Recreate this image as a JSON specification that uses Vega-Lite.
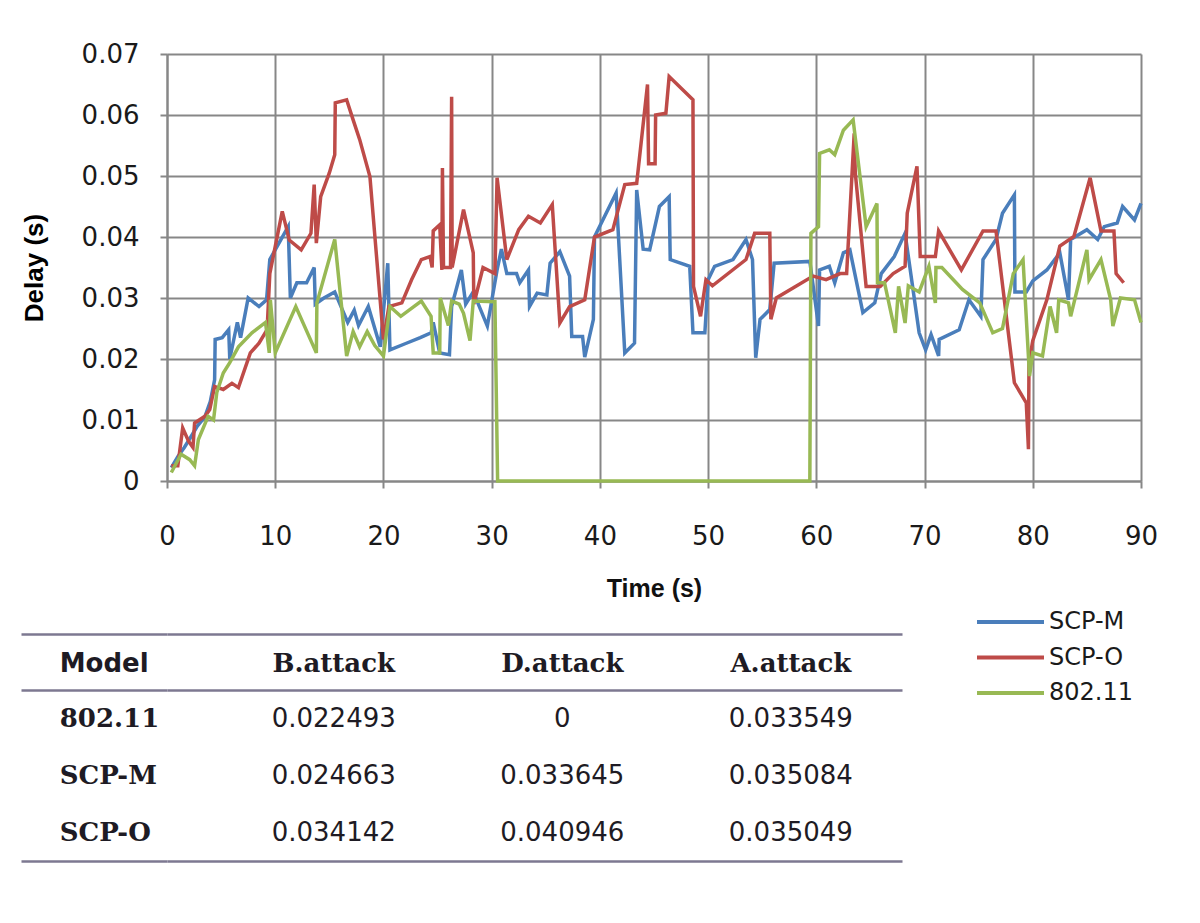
{
  "$schema": "https://vega.github.io/schema/vega-lite/v6.json",
  "background": "white",
  "padding": {"left": 19, "top": 41, "right": 5, "bottom": 5},
  "config": {"view": {"stroke": null}, "concat": {"spacing": 31}},
  "vconcat": [
    {
      "width": 974,
      "height": 427,
      "data": {"values": [
        {"series":"SCP-M","time":0.4,"delay":0.0022},{"series":"SCP-M","time":1.0,"delay":0.004},{"series":"SCP-M","time":1.6,"delay":0.0055},{"series":"SCP-M","time":2.3,"delay":0.0075},{"series":"SCP-M","time":2.8,"delay":0.009},{"series":"SCP-M","time":3.5,"delay":0.0105},{"series":"SCP-M","time":4.0,"delay":0.013},{"series":"SCP-M","time":4.4,"delay":0.0166},{"series":"SCP-M","time":4.45,"delay":0.0232},{"series":"SCP-M","time":5.1,"delay":0.0235},{"series":"SCP-M","time":5.7,"delay":0.0248},{"series":"SCP-M","time":5.8,"delay":0.02},{"series":"SCP-M","time":6.3,"delay":0.0243},{"series":"SCP-M","time":6.5,"delay":0.026},{"series":"SCP-M","time":6.8,"delay":0.0235},{"series":"SCP-M","time":7.5,"delay":0.03},{"series":"SCP-M","time":8.5,"delay":0.0286},{"series":"SCP-M","time":9.2,"delay":0.0297},{"series":"SCP-M","time":9.5,"delay":0.0363},{"series":"SCP-M","time":10.5,"delay":0.0395},{"series":"SCP-M","time":11.2,"delay":0.0417},{"series":"SCP-M","time":11.4,"delay":0.03},{"series":"SCP-M","time":12.0,"delay":0.0325},{"series":"SCP-M","time":12.9,"delay":0.0325},{"series":"SCP-M","time":13.6,"delay":0.035},{"series":"SCP-M","time":13.7,"delay":0.029},{"series":"SCP-M","time":14.5,"delay":0.03},{"series":"SCP-M","time":15.5,"delay":0.031},{"series":"SCP-M","time":16.7,"delay":0.026},{"series":"SCP-M","time":17.3,"delay":0.028},{"series":"SCP-M","time":17.7,"delay":0.0255},{"series":"SCP-M","time":18.6,"delay":0.0286},{"series":"SCP-M","time":19.7,"delay":0.022},{"series":"SCP-M","time":20.4,"delay":0.0357},{"series":"SCP-M","time":20.6,"delay":0.0215},{"series":"SCP-M","time":22.0,"delay":0.0225},{"series":"SCP-M","time":23.4,"delay":0.0235},{"series":"SCP-M","time":24.4,"delay":0.0243},{"series":"SCP-M","time":24.6,"delay":0.026},{"series":"SCP-M","time":25.2,"delay":0.021},{"series":"SCP-M","time":26.1,"delay":0.0207},{"series":"SCP-M","time":26.3,"delay":0.0286},{"series":"SCP-M","time":27.2,"delay":0.0346},{"series":"SCP-M","time":27.6,"delay":0.029},{"series":"SCP-M","time":28.3,"delay":0.031},{"series":"SCP-M","time":29.6,"delay":0.0254},{"series":"SCP-M","time":30.5,"delay":0.0346},{"series":"SCP-M","time":30.9,"delay":0.038},{"series":"SCP-M","time":31.4,"delay":0.034},{"series":"SCP-M","time":32.3,"delay":0.034},{"series":"SCP-M","time":32.6,"delay":0.0325},{"series":"SCP-M","time":33.4,"delay":0.0346},{"series":"SCP-M","time":33.5,"delay":0.0286},{"series":"SCP-M","time":34.2,"delay":0.0308},{"series":"SCP-M","time":35.1,"delay":0.0305},{"series":"SCP-M","time":35.4,"delay":0.0357},{"series":"SCP-M","time":36.3,"delay":0.0376},{"series":"SCP-M","time":37.2,"delay":0.0336},{"series":"SCP-M","time":37.4,"delay":0.0237},{"series":"SCP-M","time":38.4,"delay":0.0237},{"series":"SCP-M","time":38.6,"delay":0.0203},{"series":"SCP-M","time":39.4,"delay":0.0265},{"series":"SCP-M","time":39.5,"delay":0.04},{"series":"SCP-M","time":41.5,"delay":0.0472},{"series":"SCP-M","time":42.3,"delay":0.021},{"series":"SCP-M","time":43.2,"delay":0.0226},{"series":"SCP-M","time":43.4,"delay":0.0477},{"series":"SCP-M","time":44.0,"delay":0.038},{"series":"SCP-M","time":44.6,"delay":0.0379},{"series":"SCP-M","time":45.5,"delay":0.045},{"series":"SCP-M","time":46.4,"delay":0.0466},{"series":"SCP-M","time":46.5,"delay":0.0363},{"series":"SCP-M","time":48.3,"delay":0.0352},{"series":"SCP-M","time":48.6,"delay":0.0243},{"series":"SCP-M","time":49.7,"delay":0.0243},{"series":"SCP-M","time":50.0,"delay":0.033},{"series":"SCP-M","time":50.6,"delay":0.0352},{"series":"SCP-M","time":52.3,"delay":0.0363},{"series":"SCP-M","time":53.5,"delay":0.0396},{"series":"SCP-M","time":54.1,"delay":0.0363},{"series":"SCP-M","time":54.4,"delay":0.0202},{"series":"SCP-M","time":54.8,"delay":0.0265},{"series":"SCP-M","time":55.7,"delay":0.0281},{"series":"SCP-M","time":56.1,"delay":0.0357},{"series":"SCP-M","time":59.4,"delay":0.036},{"series":"SCP-M","time":60.2,"delay":0.0254},{"series":"SCP-M","time":60.3,"delay":0.0346},{"series":"SCP-M","time":61.2,"delay":0.0352},{"series":"SCP-M","time":61.7,"delay":0.0325},{"series":"SCP-M","time":62.5,"delay":0.0374},{"series":"SCP-M","time":63.1,"delay":0.0379},{"series":"SCP-M","time":64.3,"delay":0.0276},{"series":"SCP-M","time":65.4,"delay":0.0292},{"series":"SCP-M","time":66.0,"delay":0.034},{"series":"SCP-M","time":67.2,"delay":0.0368},{"series":"SCP-M","time":68.2,"delay":0.0406},{"series":"SCP-M","time":69.5,"delay":0.0243},{"series":"SCP-M","time":70.1,"delay":0.0215},{"series":"SCP-M","time":70.6,"delay":0.024},{"series":"SCP-M","time":71.3,"delay":0.0205},{"series":"SCP-M","time":71.35,"delay":0.0232},{"series":"SCP-M","time":73.2,"delay":0.0248},{"series":"SCP-M","time":74.1,"delay":0.0297},{"series":"SCP-M","time":75.2,"delay":0.027},{"series":"SCP-M","time":75.4,"delay":0.0363},{"series":"SCP-M","time":76.6,"delay":0.0396},{"series":"SCP-M","time":77.2,"delay":0.0439},{"series":"SCP-M","time":78.3,"delay":0.0469},{"series":"SCP-M","time":78.35,"delay":0.031},{"series":"SCP-M","time":79.4,"delay":0.031},{"series":"SCP-M","time":80.0,"delay":0.0328},{"series":"SCP-M","time":81.3,"delay":0.0346},{"series":"SCP-M","time":82.5,"delay":0.0374},{"series":"SCP-M","time":83.3,"delay":0.0297},{"series":"SCP-M","time":83.5,"delay":0.0396},{"series":"SCP-M","time":85.0,"delay":0.0412},{"series":"SCP-M","time":86.0,"delay":0.0396},{"series":"SCP-M","time":86.6,"delay":0.0417},{"series":"SCP-M","time":87.8,"delay":0.0423},{"series":"SCP-M","time":88.3,"delay":0.045},{"series":"SCP-M","time":89.4,"delay":0.0428},{"series":"SCP-M","time":90.0,"delay":0.0455},
        {"series":"SCP-O","time":0.4,"delay":0.0025},{"series":"SCP-O","time":1.0,"delay":0.0025},{"series":"SCP-O","time":1.45,"delay":0.0087},{"series":"SCP-O","time":2.0,"delay":0.0065},{"series":"SCP-O","time":2.4,"delay":0.0055},{"series":"SCP-O","time":2.55,"delay":0.0095},{"series":"SCP-O","time":3.5,"delay":0.0106},{"series":"SCP-O","time":3.95,"delay":0.0117},{"series":"SCP-O","time":4.4,"delay":0.0155},{"series":"SCP-O","time":5.2,"delay":0.015},{"series":"SCP-O","time":6.0,"delay":0.016},{"series":"SCP-O","time":6.6,"delay":0.0153},{"series":"SCP-O","time":7.7,"delay":0.021},{"series":"SCP-O","time":8.5,"delay":0.0226},{"series":"SCP-O","time":9.25,"delay":0.0248},{"series":"SCP-O","time":9.5,"delay":0.034},{"series":"SCP-O","time":10.65,"delay":0.0442},{"series":"SCP-O","time":11.3,"delay":0.0395},{"series":"SCP-O","time":12.4,"delay":0.0379},{"series":"SCP-O","time":13.3,"delay":0.0406},{"series":"SCP-O","time":13.6,"delay":0.0486},{"series":"SCP-O","time":13.8,"delay":0.039},{"series":"SCP-O","time":14.2,"delay":0.0466},{"series":"SCP-O","time":15.0,"delay":0.0505},{"series":"SCP-O","time":15.5,"delay":0.0535},{"series":"SCP-O","time":15.55,"delay":0.062},{"series":"SCP-O","time":16.6,"delay":0.0625},{"series":"SCP-O","time":17.2,"delay":0.0592},{"series":"SCP-O","time":17.8,"delay":0.056},{"series":"SCP-O","time":18.75,"delay":0.0499},{"series":"SCP-O","time":20.0,"delay":0.0232},{"series":"SCP-O","time":20.5,"delay":0.0286},{"series":"SCP-O","time":21.7,"delay":0.0292},{"series":"SCP-O","time":22.6,"delay":0.033},{"series":"SCP-O","time":23.5,"delay":0.0363},{"series":"SCP-O","time":24.3,"delay":0.0368},{"series":"SCP-O","time":24.5,"delay":0.035},{"series":"SCP-O","time":24.6,"delay":0.041},{"series":"SCP-O","time":25.2,"delay":0.042},{"series":"SCP-O","time":25.4,"delay":0.0346},{"series":"SCP-O","time":25.45,"delay":0.0513},{"series":"SCP-O","time":25.55,"delay":0.035},{"series":"SCP-O","time":26.2,"delay":0.035},{"series":"SCP-O","time":26.3,"delay":0.063},{"series":"SCP-O","time":26.35,"delay":0.035},{"series":"SCP-O","time":27.4,"delay":0.0445},{"series":"SCP-O","time":28.3,"delay":0.0374},{"series":"SCP-O","time":28.35,"delay":0.029},{"series":"SCP-O","time":29.2,"delay":0.035},{"series":"SCP-O","time":30.3,"delay":0.034},{"series":"SCP-O","time":30.5,"delay":0.0497},{"series":"SCP-O","time":31.4,"delay":0.0363},{"series":"SCP-O","time":32.5,"delay":0.0412},{"series":"SCP-O","time":33.4,"delay":0.0434},{"series":"SCP-O","time":34.5,"delay":0.0423},{"series":"SCP-O","time":35.6,"delay":0.0453},{"series":"SCP-O","time":36.3,"delay":0.0259},{"series":"SCP-O","time":37.2,"delay":0.0286},{"series":"SCP-O","time":38.6,"delay":0.0297},{"series":"SCP-O","time":39.5,"delay":0.04},{"series":"SCP-O","time":41.2,"delay":0.0412},{"series":"SCP-O","time":42.3,"delay":0.0486},{"series":"SCP-O","time":43.4,"delay":0.0488},{"series":"SCP-O","time":44.4,"delay":0.065},{"series":"SCP-O","time":44.5,"delay":0.052},{"series":"SCP-O","time":45.1,"delay":0.052},{"series":"SCP-O","time":45.15,"delay":0.06},{"series":"SCP-O","time":46.1,"delay":0.0603},{"series":"SCP-O","time":46.4,"delay":0.0663},{"series":"SCP-O","time":48.6,"delay":0.0625},{"series":"SCP-O","time":48.65,"delay":0.0319},{"series":"SCP-O","time":49.3,"delay":0.027},{"series":"SCP-O","time":49.8,"delay":0.033},{"series":"SCP-O","time":50.4,"delay":0.032},{"series":"SCP-O","time":53.5,"delay":0.0363},{"series":"SCP-O","time":54.3,"delay":0.0406},{"series":"SCP-O","time":55.7,"delay":0.0406},{"series":"SCP-O","time":55.8,"delay":0.0265},{"series":"SCP-O","time":56.3,"delay":0.03},{"series":"SCP-O","time":59.7,"delay":0.0336},{"series":"SCP-O","time":60.9,"delay":0.033},{"series":"SCP-O","time":62.2,"delay":0.034},{"series":"SCP-O","time":62.8,"delay":0.034},{"series":"SCP-O","time":63.5,"delay":0.057},{"series":"SCP-O","time":63.6,"delay":0.0505},{"series":"SCP-O","time":64.6,"delay":0.0319},{"series":"SCP-O","time":65.9,"delay":0.0319},{"series":"SCP-O","time":67.1,"delay":0.034},{"series":"SCP-O","time":68.2,"delay":0.0352},{"series":"SCP-O","time":68.4,"delay":0.0439},{"series":"SCP-O","time":69.3,"delay":0.0516},{"series":"SCP-O","time":69.6,"delay":0.0368},{"series":"SCP-O","time":71.0,"delay":0.0368},{"series":"SCP-O","time":71.3,"delay":0.041},{"series":"SCP-O","time":73.4,"delay":0.0346},{"series":"SCP-O","time":75.4,"delay":0.041},{"series":"SCP-O","time":76.6,"delay":0.041},{"series":"SCP-O","time":78.3,"delay":0.0161},{"series":"SCP-O","time":79.4,"delay":0.0128},{"series":"SCP-O","time":79.6,"delay":0.0052},{"series":"SCP-O","time":79.65,"delay":0.0194},{"series":"SCP-O","time":80.0,"delay":0.023},{"series":"SCP-O","time":81.3,"delay":0.0297},{"series":"SCP-O","time":82.5,"delay":0.0385},{"series":"SCP-O","time":83.8,"delay":0.0401},{"series":"SCP-O","time":85.3,"delay":0.0497},{"series":"SCP-O","time":86.3,"delay":0.041},{"series":"SCP-O","time":87.5,"delay":0.041},{"series":"SCP-O","time":87.7,"delay":0.034},{"series":"SCP-O","time":88.4,"delay":0.0325},
        {"series":"802.11","time":0.4,"delay":0.0014},{"series":"802.11","time":1.3,"delay":0.0044},{"series":"802.11","time":2.1,"delay":0.0035},{"series":"802.11","time":2.55,"delay":0.0025},{"series":"802.11","time":2.9,"delay":0.0068},{"series":"802.11","time":3.8,"delay":0.0106},{"series":"802.11","time":4.3,"delay":0.01},{"series":"802.11","time":4.6,"delay":0.0145},{"series":"802.11","time":5.2,"delay":0.0177},{"series":"802.11","time":5.8,"delay":0.0194},{"series":"802.11","time":6.6,"delay":0.022},{"series":"802.11","time":7.85,"delay":0.0243},{"series":"802.11","time":9.1,"delay":0.026},{"series":"802.11","time":9.45,"delay":0.021},{"series":"802.11","time":9.55,"delay":0.0297},{"series":"802.11","time":10.0,"delay":0.021},{"series":"802.11","time":11.9,"delay":0.0286},{"series":"802.11","time":13.8,"delay":0.021},{"series":"802.11","time":13.85,"delay":0.0292},{"series":"802.11","time":15.5,"delay":0.0396},{"series":"802.11","time":16.6,"delay":0.0205},{"series":"802.11","time":17.2,"delay":0.0245},{"series":"802.11","time":17.8,"delay":0.022},{"series":"802.11","time":18.5,"delay":0.0245},{"series":"802.11","time":19.2,"delay":0.0222},{"series":"802.11","time":20.0,"delay":0.0205},{"series":"802.11","time":20.6,"delay":0.0286},{"series":"802.11","time":21.6,"delay":0.027},{"series":"802.11","time":23.5,"delay":0.0295},{"series":"802.11","time":24.4,"delay":0.027},{"series":"802.11","time":24.6,"delay":0.021},{"series":"802.11","time":25.2,"delay":0.021},{"series":"802.11","time":25.25,"delay":0.03},{"series":"802.11","time":26.0,"delay":0.0255},{"series":"802.11","time":26.3,"delay":0.0295},{"series":"802.11","time":27.0,"delay":0.029},{"series":"802.11","time":27.4,"delay":0.0275},{"series":"802.11","time":28.0,"delay":0.023},{"series":"802.11","time":28.3,"delay":0.0295},{"series":"802.11","time":30.3,"delay":0.0294},{"series":"802.11","time":30.55,"delay":0},{"series":"802.11","time":59.4,"delay":0},{"series":"802.11","time":59.5,"delay":0.0406},{"series":"802.11","time":60.2,"delay":0.0417},{"series":"802.11","time":60.3,"delay":0.0537},{"series":"802.11","time":61.2,"delay":0.0543},{"series":"802.11","time":61.7,"delay":0.0535},{"series":"802.11","time":62.5,"delay":0.0575},{"series":"802.11","time":63.4,"delay":0.0592},{"series":"802.11","time":64.6,"delay":0.0417},{"series":"802.11","time":65.6,"delay":0.0455},{"series":"802.11","time":65.65,"delay":0.0325},{"series":"802.11","time":66.3,"delay":0.0325},{"series":"802.11","time":67.3,"delay":0.0243},{"series":"802.11","time":67.6,"delay":0.0319},{"series":"802.11","time":68.2,"delay":0.0259},{"series":"802.11","time":68.5,"delay":0.032},{"series":"802.11","time":69.5,"delay":0.031},{"series":"802.11","time":70.4,"delay":0.0352},{"series":"802.11","time":71.0,"delay":0.0292},{"series":"802.11","time":71.05,"delay":0.035},{"series":"802.11","time":71.6,"delay":0.035},{"series":"802.11","time":73.5,"delay":0.0314},{"series":"802.11","time":75.1,"delay":0.0292},{"series":"802.11","time":76.3,"delay":0.0243},{"series":"802.11","time":77.2,"delay":0.025},{"series":"802.11","time":78.2,"delay":0.034},{"series":"802.11","time":79.1,"delay":0.0363},{"series":"802.11","time":79.7,"delay":0.0172},{"series":"802.11","time":80.0,"delay":0.021},{"series":"802.11","time":80.9,"delay":0.0205},{"series":"802.11","time":81.6,"delay":0.0286},{"series":"802.11","time":82.2,"delay":0.0243},{"series":"802.11","time":82.4,"delay":0.0297},{"series":"802.11","time":83.3,"delay":0.0292},{"series":"802.11","time":83.5,"delay":0.027},{"series":"802.11","time":85.0,"delay":0.0379},{"series":"802.11","time":85.2,"delay":0.033},{"series":"802.11","time":86.3,"delay":0.0363},{"series":"802.11","time":87.2,"delay":0.0297},{"series":"802.11","time":87.4,"delay":0.0254},{"series":"802.11","time":88.1,"delay":0.03},{"series":"802.11","time":89.4,"delay":0.0297},{"series":"802.11","time":90.0,"delay":0.026}
      ]},
      "mark": {"type": "line", "strokeWidth": 3.5, "strokeJoin": "miter"},
      "encoding": {
        "x": {
          "field": "time", "type": "quantitative",
          "scale": {"domain": [0, 90], "nice": false},
          "axis": {
            "values": [0, 10, 20, 30, 40, 50, 60, 70, 80, 90],
            "title": "Time (s)", "titleFont": "Liberation Sans", "titleFontSize": 25, "titleFontWeight": "bold", "titleColor": "#111111", "titlePadding": 27,
            "labelFont": "DejaVu Sans", "labelFontSize": 26, "labelColor": "#1a1a1a", "labelPadding": 35, "labelFlush": false, "labelOverlap": false,
            "tickSize": 7, "tickColor": "#878787", "tickWidth": 2,
            "domainColor": "#878787", "domainWidth": 2,
            "grid": true, "gridColor": "#878787", "gridWidth": 2, "gridOpacity": 1
          }
        },
        "y": {
          "field": "delay", "type": "quantitative",
          "scale": {"domain": [0, 0.07], "nice": false},
          "axis": {
            "values": [0, 0.01, 0.02, 0.03, 0.04, 0.05, 0.06, 0.07],
            "labelExpr": "datum.value === 0 ? '0' : format(datum.value, '.2f')",
            "title": "Delay (s)", "titleFont": "Liberation Sans", "titleFontSize": 26, "titleFontWeight": "bold", "titleColor": "#000000", "titlePadding": 34,
            "labelFont": "DejaVu Sans", "labelFontSize": 26, "labelColor": "#1a1a1a", "labelPadding": 21,
            "tickSize": 7, "tickColor": "#878787", "tickWidth": 2,
            "domainColor": "#878787", "domainWidth": 2,
            "grid": true, "gridColor": "#878787", "gridWidth": 2, "gridOpacity": 1
          }
        },
        "color": {
          "field": "series", "type": "nominal",
          "scale": {"domain": ["SCP-M", "SCP-O", "802.11"], "range": ["#4a7ebb", "#be4b48", "#98b954"]},
          "legend": {
            "title": null, "orient": "none", "legendX": 808, "legendY": 556,
            "symbolType": "stroke", "symbolSize": 4489, "symbolStrokeWidth": 4,
            "labelFont": "DejaVu Sans", "labelFontSize": 24, "labelColor": "#1a1a1a", "labelOffset": 3,
            "clipHeight": 24, "rowPadding": 11.5, "padding": 0
          }
        },
        "order": {"value": null}
      }
    },
    {
      "width": 735,
      "height": 284,
      "data": {"values": [
        {"row": "Model", "col": "Model", "label": "Model"},
        {"row": "Model", "col": "B.attack", "label": "B.attack"},
        {"row": "Model", "col": "D.attack", "label": "D.attack"},
        {"row": "Model", "col": "A.attack", "label": "A.attack"},
        {"row": "802.11", "col": "Model", "label": "802.11"},
        {"row": "802.11", "col": "B.attack", "label": "0.022493"},
        {"row": "802.11", "col": "D.attack", "label": "0"},
        {"row": "802.11", "col": "A.attack", "label": "0.033549"},
        {"row": "SCP-M", "col": "Model", "label": "SCP-M"},
        {"row": "SCP-M", "col": "B.attack", "label": "0.024663"},
        {"row": "SCP-M", "col": "D.attack", "label": "0.033645"},
        {"row": "SCP-M", "col": "A.attack", "label": "0.035084"},
        {"row": "SCP-O", "col": "Model", "label": "SCP-O"},
        {"row": "SCP-O", "col": "B.attack", "label": "0.034142"},
        {"row": "SCP-O", "col": "D.attack", "label": "0.040946"},
        {"row": "SCP-O", "col": "A.attack", "label": "0.035049"}
      ]},
      "encoding": {
        "y": {
          "field": "row", "type": "nominal",
          "scale": {"type": "band", "domain": ["Model", "802.11", "SCP-M", "SCP-O", "end"], "paddingInner": 0, "paddingOuter": 0},
          "axis": {
            "values": ["Model", "802.11", "end"], "bandPosition": 0,
            "title": null, "labels": false, "domain": false,
            "ticks": true, "tickSize": 146, "tickColor": "#7d7891", "tickWidth": 2.5,
            "grid": true, "gridColor": "#7d7891", "gridWidth": 2.5, "gridOpacity": 1
          }
        }
      },
      "layer": [
        {
          "transform": [{"filter": "datum.col === 'Model' && datum.row === 'Model'"}],
          "mark": {"type": "text", "align": "left", "baseline": "middle", "dx": -274, "dy": 2, "font": "DejaVu Sans", "fontSize": 26, "fontWeight": "bold", "color": "#1e1b24"},
          "encoding": {
            "x": {"datum": "B.attack", "type": "nominal", "scale": {"type": "point", "domain": ["B.attack", "D.attack", "A.attack"], "padding": 0.608, "align": 0.6}, "axis": null},
            "text": {"field": "label"}
          }
        },
        {
          "transform": [{"filter": "datum.col === 'Model' && datum.row !== 'Model'"}],
          "mark": {"type": "text", "align": "left", "baseline": "middle", "dx": -274, "font": "DejaVu Serif", "fontSize": 26, "fontWeight": "bold", "color": "#1e1b24"},
          "encoding": {
            "x": {"datum": "B.attack", "type": "nominal", "axis": null},
            "text": {"field": "label"}
          }
        },
        {
          "transform": [{"filter": "datum.col !== 'Model' && datum.row === 'Model'"}],
          "mark": {"type": "text", "align": "center", "baseline": "middle", "dy": 2, "font": "DejaVu Serif", "fontSize": 26, "fontWeight": "bold", "color": "#1e1b24"},
          "encoding": {
            "x": {"field": "col", "type": "nominal", "axis": null},
            "text": {"field": "label"}
          }
        },
        {
          "transform": [{"filter": "datum.col !== 'Model' && datum.row !== 'Model'"}],
          "mark": {"type": "text", "align": "center", "baseline": "middle", "font": "DejaVu Sans", "fontSize": 26, "color": "#1e1b24"},
          "encoding": {
            "x": {"field": "col", "type": "nominal", "axis": null},
            "text": {"field": "label"}
          }
        }
      ]
    }
  ]
}
